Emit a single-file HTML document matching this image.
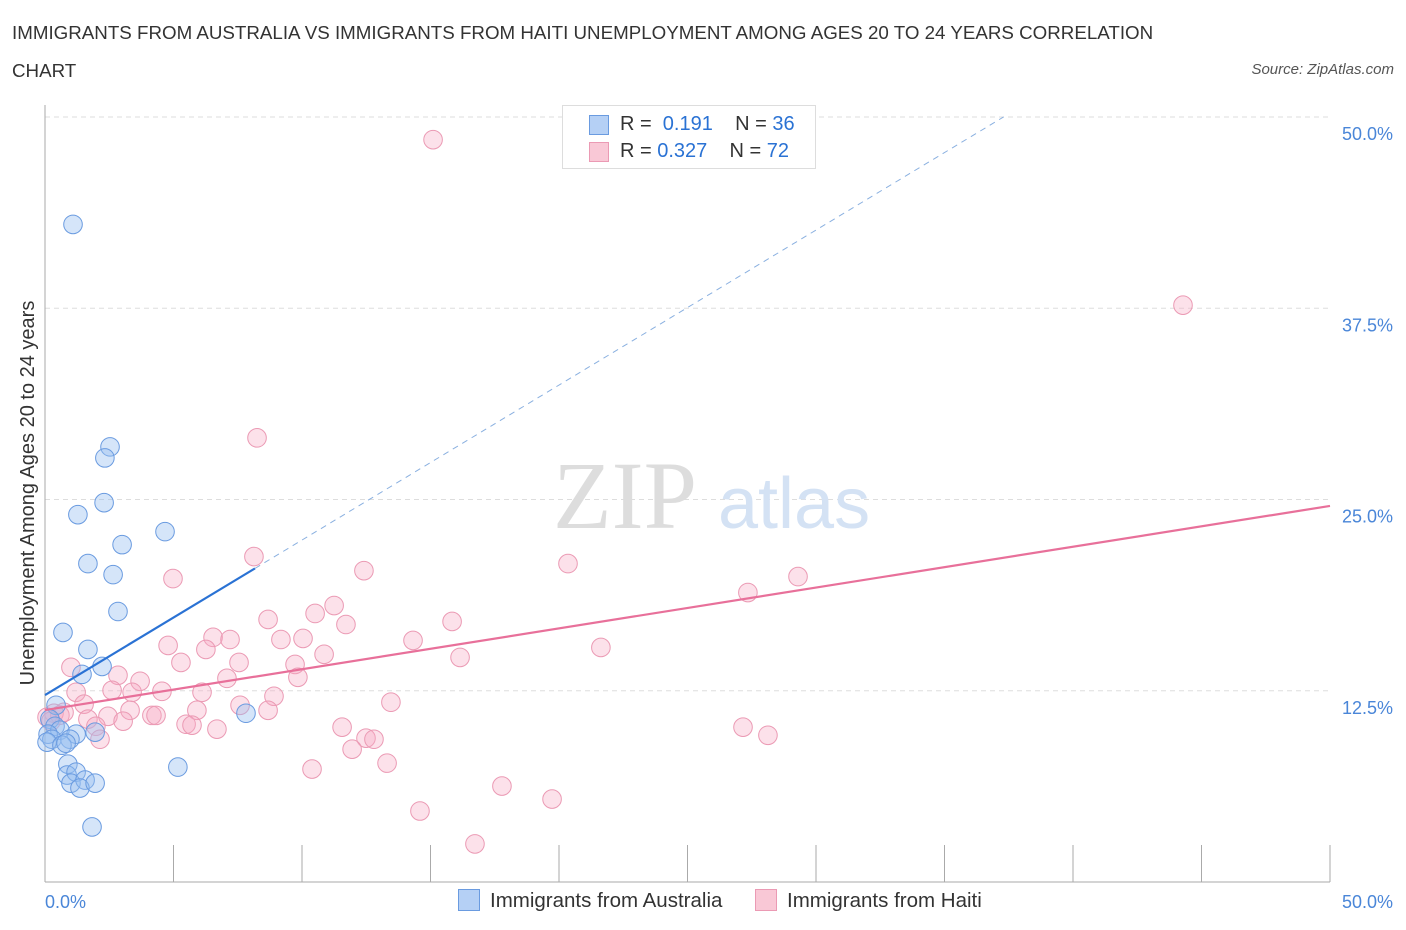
<!DOCTYPE html>
<html><head><meta charset="utf-8"><style>
body{margin:0;background:#fff;font-family:"Liberation Sans",sans-serif;}
#wrap{position:relative;width:1406px;height:930px;overflow:hidden}
.t{position:absolute;color:#333;font-size:18.75px}
</style></head><body>
<div id="wrap">
<div class="t" style="left:12px;top:22px">IMMIGRANTS FROM AUSTRALIA VS IMMIGRANTS FROM HAITI UNEMPLOYMENT AMONG AGES 20 TO 24 YEARS CORRELATION</div>
<div class="t" style="left:12px;top:60px">CHART</div>
<div class="t" style="right:12px;top:61px;font-size:15px;font-style:italic;color:#555">Source: ZipAtlas.com</div>
<svg id="svg" width="1406" height="930" style="position:absolute;left:0;top:0"></svg>
</div>
<script>
const xTicks=[0,5,10,15,20,25,30,35,40,45,50];
const yTicks=[12.5,25,37.5,50];
const yTickLabels=["12.5%","25.0%","37.5%","50.0%"];
const ausX=[1.09,2.53,2.33,2.30,1.28,4.67,3.0,1.67,2.65,2.84,0.70,1.67,2.22,1.44,0.43,0.19,0.39,0.58,0.12,0.27,0.08,1.21,0.97,0.66,0.82,0.89,1.95,0.86,1.21,1.01,1.56,1.36,1.95,1.83,5.17,7.82];
const ausY=[42.98,28.44,27.72,24.79,24.01,22.9,22.05,20.81,20.09,17.68,16.31,15.2,14.09,13.57,11.55,10.64,10.18,9.92,9.66,9.33,9.14,9.66,9.33,8.94,9.07,7.7,9.79,6.99,7.18,6.46,6.66,6.14,6.46,3.6,7.51,11.03];
const haiX=[15.10,44.28,8.25,8.13,12.41,20.35,4.98,29.30,27.35,11.25,10.51,8.68,15.84,11.71,6.54,7.20,9.18,10.04,14.32,4.79,6.26,21.63,10.86,16.15,5.29,7.55,9.73,1.01,2.84,3.70,7.08,9.84,1.21,2.61,3.39,4.55,6.11,8.91,13.46,1.52,3.31,5.91,8.68,0.35,0.58,7.59,2.45,4.16,4.32,0.74,1.67,5.49,5.72,3.04,1.98,6.69,11.56,27.16,28.13,2.14,12.49,12.80,11.95,13.31,10.39,17.78,19.73,14.59,16.73,0.08,0.23];
const haiY=[48.52,37.7,29.03,21.27,20.35,20.81,19.83,19.96,18.92,18.07,17.55,17.16,17.03,16.83,15.99,15.85,15.85,15.92,15.79,15.46,15.2,15.33,14.88,14.68,14.35,14.35,14.22,14.03,13.51,13.12,13.31,13.38,12.4,12.53,12.4,12.46,12.4,12.14,11.75,11.62,11.22,11.22,11.22,11.03,10.9,11.55,10.83,10.89,10.89,11.09,10.64,10.31,10.25,10.51,10.18,9.99,10.12,10.12,9.59,9.33,9.4,9.33,8.68,7.77,7.38,6.27,5.42,4.64,2.49,10.77,10.51];
const ausLine={b0:12.22,slope:1.013,solidEnd:8.17,dashEnd:37.3};
const haiLine={b0:11.24,b1:24.58};
const X=v=>45+v/50*1285, Y=v=>882-v/50*765;
const svg=document.getElementById('svg'),NS='http://www.w3.org/2000/svg';
function mk(t,a,p){const e=document.createElementNS(NS,t);for(const k in a)e.setAttribute(k,a[k]);(p||svg).appendChild(e);return e;}
yTicks.forEach((v,i)=>{
 const g=mk('line',{x1:45,x2:1330,y1:Y(v),y2:Y(v),stroke:'#ddd','stroke-dasharray':'5,4'});
 
 
 const t=mk('text',{x:1393,y:Y(v)+23,'text-anchor':'end','font-size':18,fill:'#4a86d8','font-family':'Liberation Sans'});t.textContent=yTickLabels[i];
 
 
});
mk('line',{x1:45,x2:45,y1:105,y2:882,stroke:'#aaa'});
mk('line',{x1:45,x2:1330,y1:882,y2:882,stroke:'#aaa'});
xTicks.slice(1).forEach(v=>{const l=mk('line',{x1:X(v),x2:X(v),y1:845,y2:882,stroke:'#aaa'});
 
 });
let t=mk('text',{x:45,y:908,'font-size':18,fill:'#4a86d8','font-family':'Liberation Sans'});t.textContent='0.0%';


t=mk('text',{x:1393,y:908,'text-anchor':'end','font-size':18,fill:'#4a86d8','font-family':'Liberation Sans'});t.textContent='50.0%';


t=mk('text',{x:34,y:493,'text-anchor':'middle','font-size':20,fill:'#333','font-family':'Liberation Sans',transform:'rotate(-90 34 493)'});t.textContent='Unemployment Among Ages 20 to 24 years';


t=mk('text',{x:553,y:528,'font-size':96,fill:'#ddd','font-family':'Liberation Serif'});t.textContent='ZIP';


t=mk('text',{x:718,y:528,'font-size':72,fill:'#d4e2f4','font-family':'Liberation Sans'});t.textContent='atlas';


haiX.forEach((x,i)=>{if(haiY[i]===undefined)return;const c=mk('circle',{cx:X(x),cy:Y(haiY[i]),r:9.3,fill:'rgba(245,170,195,0.35)',stroke:'#eb9ab4','stroke-width':1});
 
 });
ausX.forEach((x,i)=>{const c=mk('circle',{cx:X(x),cy:Y(ausY[i]),r:9.3,fill:'rgba(150,190,240,0.4)',stroke:'#6a9be0','stroke-width':1});
 
 });
let l=mk('line',{x1:X(0),y1:Y(haiLine.b0),x2:X(50),y2:Y(haiLine.b1),stroke:'#e8709a','stroke-width':2.2});


const ay=v=>ausLine.b0+ausLine.slope*v;
l=mk('line',{x1:X(ausLine.solidEnd),y1:Y(ay(ausLine.solidEnd)),x2:X(ausLine.dashEnd),y2:Y(ay(ausLine.dashEnd)),stroke:'#8ab0e0','stroke-width':1,'stroke-dasharray':'6,5'});


l=mk('line',{x1:X(0),y1:Y(ay(0)),x2:X(ausLine.solidEnd),y2:Y(ay(ausLine.solidEnd)),stroke:'#2a72d4','stroke-width':2.2});


</script>
<div style="position:absolute;left:562px;top:105px;width:252px;height:62px;border:1px solid #ddd;background:#fff;font-size:20px;color:#333">
 <div style="position:absolute;left:26px;top:9px;width:18px;height:18px;background:#b5d0f5;border:1px solid #6a9be0"></div>
 <div style="position:absolute;left:57px;top:7px">R = &nbsp;<span style="color:#2a72d4">0.191</span>&nbsp;&nbsp;&nbsp; N = <span style="color:#2a72d4">36</span></div>
 <div style="position:absolute;left:26px;top:36px;width:18px;height:18px;background:#f9c8d6;border:1px solid #eb9ab4"></div>
 <div style="position:absolute;left:57px;top:34px">R = <span style="color:#2a72d4">0.327</span>&nbsp;&nbsp;&nbsp; N = <span style="color:#2a72d4">72</span></div>
</div>
<div style="position:absolute;left:458px;top:889px;font-size:20.5px;color:#333"><span style="display:inline-block;width:20px;height:20px;background:#b5d0f5;border:1px solid #6a9be0;vertical-align:-4px;margin-right:10px"></span>Immigrants from Australia</div>
<div style="position:absolute;left:755px;top:889px;font-size:20.5px;color:#333"><span style="display:inline-block;width:20px;height:20px;background:#f9c8d6;border:1px solid #eb9ab4;vertical-align:-4px;margin-right:10px"></span>Immigrants from Haiti</div>
</body></html>
